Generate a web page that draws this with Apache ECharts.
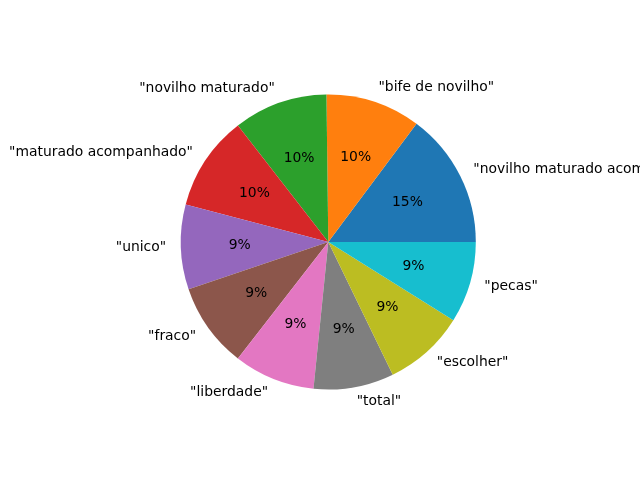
<!DOCTYPE html>
<html>
<head>
<meta charset="utf-8">
<script src="https://cdn.jsdelivr.net/npm/echarts@6/dist/echarts.min.js"></script>
<style>
  html, body { margin: 0; padding: 0; background: #fff; }
  #main { width: 640px; height: 480px; }
</style>
</head>
<body>
<div id="main"></div>
<script>
// termos e pesos
const labels = ['"novilho maturado acompanhado"', '"bife de novilho"', '"novilho maturado"', '"maturado acompanhado"',
  '"unico"', '"fraco"', '"liberdade"', '"total"', '"escolher"', '"pecas"'];
const values = [14.8, 10.4, 10.3, 10.4, 9.3, 9.3, 8.9, 8.8, 8.9, 8.9];
const colors = ['#1f77b4', '#ff7f0e', '#2ca02c', '#d62728', '#9467bd', '#8c564b', '#e377c2', '#7f7f7f', '#bcbd22', '#17becf'];

const R = 147.5;
const center = [328.3, 242];
const font = { fontFamily: 'DejaVu Sans', fontSize: 13.9, color: '#000' };

const chart = echarts.init(document.getElementById('main'));
const data = labels.map((n, i) => ({ name: n, value: values[i], itemStyle: { color: colors[i] } }));

chart.setOption({
  animation: false,
  series: [
    {
      type: 'pie',
      center: center,
      radius: [0, R],
      startAngle: 0,
      clockwise: false,
      avoidLabelOverlap: false,
      data: data,
      label: Object.assign({ position: 'outside', formatter: '{b}', overflow: 'none', distanceToLabelLine: 0 }, font),
      labelLine: { show: false, length: R * 0.1, length2: 0 },
      emphasis: { disabled: true }
    },
    {
      // so para os rotulos de percentagem (sem cor)
      type: 'pie',
      center: center,
      radius: [R * 0.16, R],
      startAngle: 0,
      clockwise: false,
      avoidLabelOverlap: false,
      silent: true,
      data: labels.map((n, i) => ({ name: n, value: values[i], itemStyle: { color: 'rgba(0,0,0,0)' } })),
      label: Object.assign({ position: 'inside', formatter: p => Math.round(p.percent) + '%' }, font),
      labelLine: { show: false },
      emphasis: { disabled: true }
    }
  ]
});
</script>
</body>
</html>
